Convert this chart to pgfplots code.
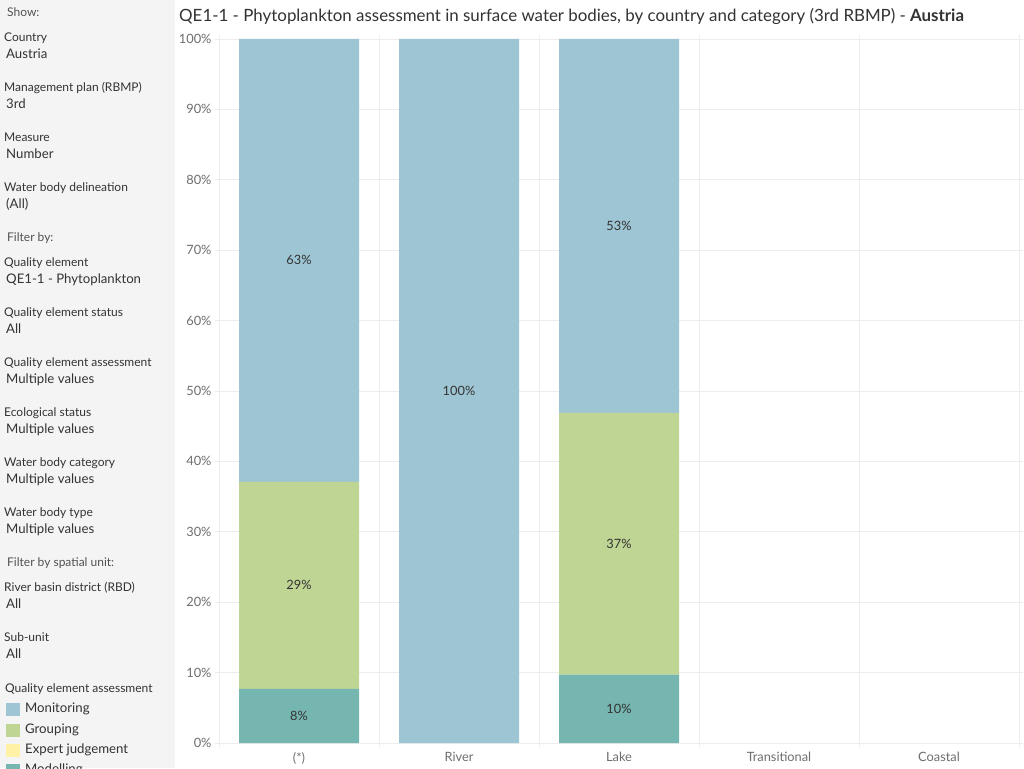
\documentclass[border=0pt]{standalone}
\usepackage{fontspec}
\setmainfont{Lato}
\usepackage{pgfplots}
\usepackage{pgfplotstable}
\pgfplotsset{compat=1.18}
\definecolor{mon}{HTML}{9DC5D3}
\definecolor{grp}{HTML}{BFD594}
\definecolor{expj}{HTML}{FFF2A6}
\definecolor{mdl}{HTML}{76B6B0}
\definecolor{panel}{HTML}{F4F4F4}
\definecolor{txt}{HTML}{333333}
\definecolor{tickc}{HTML}{6E6E6E}
\definecolor{gridc}{HTML}{EDEDED}

\pgfplotstableread{
x mdl expj grp mon
0 7.7 0 29.4 62.9
1 0 0 0 100
2 9.7 0 37.2 53.1
}\bars
\pgfplotstableread{
x y lab
0 3.85 8
0 22.4 29
0 68.55 63
1 50 100
2 4.85 10
2 28.3 37
2 73.45 53
}\labs

\newcommand\plab[3]{\node[anchor=mid west,inner sep=0pt,text=txt,font=\fontsize{12}{14}\selectfont] at (#1pt,#2pt) {#3};}
\newcommand\pval[3]{\node[anchor=mid west,inner sep=0pt,text=txt,font=\fontsize{13.2}{15}\selectfont] at (#1pt,#2pt) {#3};}

\begin{document}
\begin{tikzpicture}
\useasboundingbox (0,0) rectangle (1024pt,768pt);
\fill[white] (0,0) rectangle (1024pt,768pt);
\fill[panel] (0,0) rectangle (175pt,768pt);

\node[anchor=mid west,inner sep=0pt,text=txt!85,font=\fontsize{12}{14}\selectfont] at (7pt,754pt) {Show:};
\plab{4}{729}{Country}
\pval{6}{712}{Austria}
\plab{4}{679}{Management plan (RBMP)}
\pval{6}{662}{3rd}
\plab{4}{629}{Measure}
\pval{6}{612}{Number}
\plab{4}{579}{Water body delineation}
\pval{6}{562}{(All)}
\node[anchor=mid west,inner sep=0pt,text=txt!85,font=\fontsize{12}{14}\selectfont] at (7pt,529pt) {Filter by:};
\plab{4}{504}{Quality element}
\pval{6}{487}{QE1-1 - Phytoplankton}
\plab{4}{454}{Quality element status}
\pval{6}{437}{All}
\plab{4}{404}{Quality element assessment}
\pval{6}{387}{Multiple values}
\plab{4}{354}{Ecological status}
\pval{6}{337}{Multiple values}
\plab{4}{304}{Water body category}
\pval{6}{287}{Multiple values}
\plab{4}{254}{Water body type}
\pval{6}{237}{Multiple values}
\node[anchor=mid west,inner sep=0pt,text=txt!85,font=\fontsize{12}{14}\selectfont] at (7pt,204pt) {Filter by spatial unit:};
\plab{4}{179}{River basin district (RBD)}
\pval{6}{162}{All}
\plab{4}{129}{Sub-unit}
\pval{6}{112}{All}
\plab{5}{78}{Quality element assessment}

\node[anchor=mid west,inner sep=0pt,text=txt,font=\fontsize{16.9}{19}\selectfont] at (179pt,749pt) {QE1-1 - Phytoplankton assessment in surface water bodies, by country and category (3rd RBMP) - \textbf{Austria}};

\begin{axis}[
  at={(219pt,25pt)}, anchor=south west,
  scale only axis, width=800pt, height=704pt,
  xmin=-0.5, xmax=4.5, ymin=0, ymax=100,
  ybar stacked, bar width=120pt,
  axis line style={draw=none},
  xtick={0,1,2,3,4},
  xticklabels={(*),River,Lake,Transitional,Coastal},
  minor xtick={-0.5,0.5,1.5,2.5,3.5,4.5},
  xminorgrids, minor grid style={gridc, line width=0.8pt},
  ytick={0,10,...,100},
  yticklabel={\pgfmathprintnumber{\tick}\%},
  ymajorgrids, major grid style={gridc, line width=0.8pt},
  major x tick style={draw=none},
  minor x tick style={gridc, line width=0.8pt},
  y tick style={gridc, line width=0.8pt},
  tick align=outside,
  major tick length=4pt, minor tick length=4pt,
  /pgf/number format/assume math mode=true,
  ticklabel style={text=tickc, font=\fontsize{12.8}{15}\selectfont},
  xticklabel style={yshift=-2pt},
  reverse legend,
  legend style={
    at={(-0.2663,0.0568)}, anchor=north west,
    draw=none, fill=none, inner sep=0pt, row sep=7.3pt,
    font=\fontsize{13.2}{15}\selectfont, text=txt,
    nodes={inner xsep=5pt, inner ysep=0pt, text height=9pt, text depth=3pt},
    cells={anchor=west},
  },
  legend image code/.code={\fill[#1] (0pt,-6.5pt) rectangle (14pt,6.5pt);},
]
\addplot[fill=mdl, draw=none] table[x=x, y=mdl] {\bars};
\addplot[fill=expj, draw=none] table[x=x, y=expj] {\bars};
\addplot[fill=grp, draw=none] table[x=x, y=grp] {\bars};
\addplot[fill=mon, draw=none] table[x=x, y=mon] {\bars};
\legend{Modelling, Expert judgement, Grouping, Monitoring}
\end{axis}

\begin{axis}[
  at={(219pt,25pt)}, anchor=south west,
  scale only axis, width=800pt, height=704pt,
  xmin=-0.5, xmax=4.5, ymin=0, ymax=100,
  hide axis,
]
\addplot[draw=none, mark=none, point meta=explicit symbolic,
  nodes near coords={\pgfplotspointmeta\%},
  every node near coord/.style={anchor=center, text=txt, font=\fontsize{12.8}{15}\selectfont}]
  table[x=x, y=y, meta=lab] {\labs};
\end{axis}
\end{tikzpicture}
\end{document}
